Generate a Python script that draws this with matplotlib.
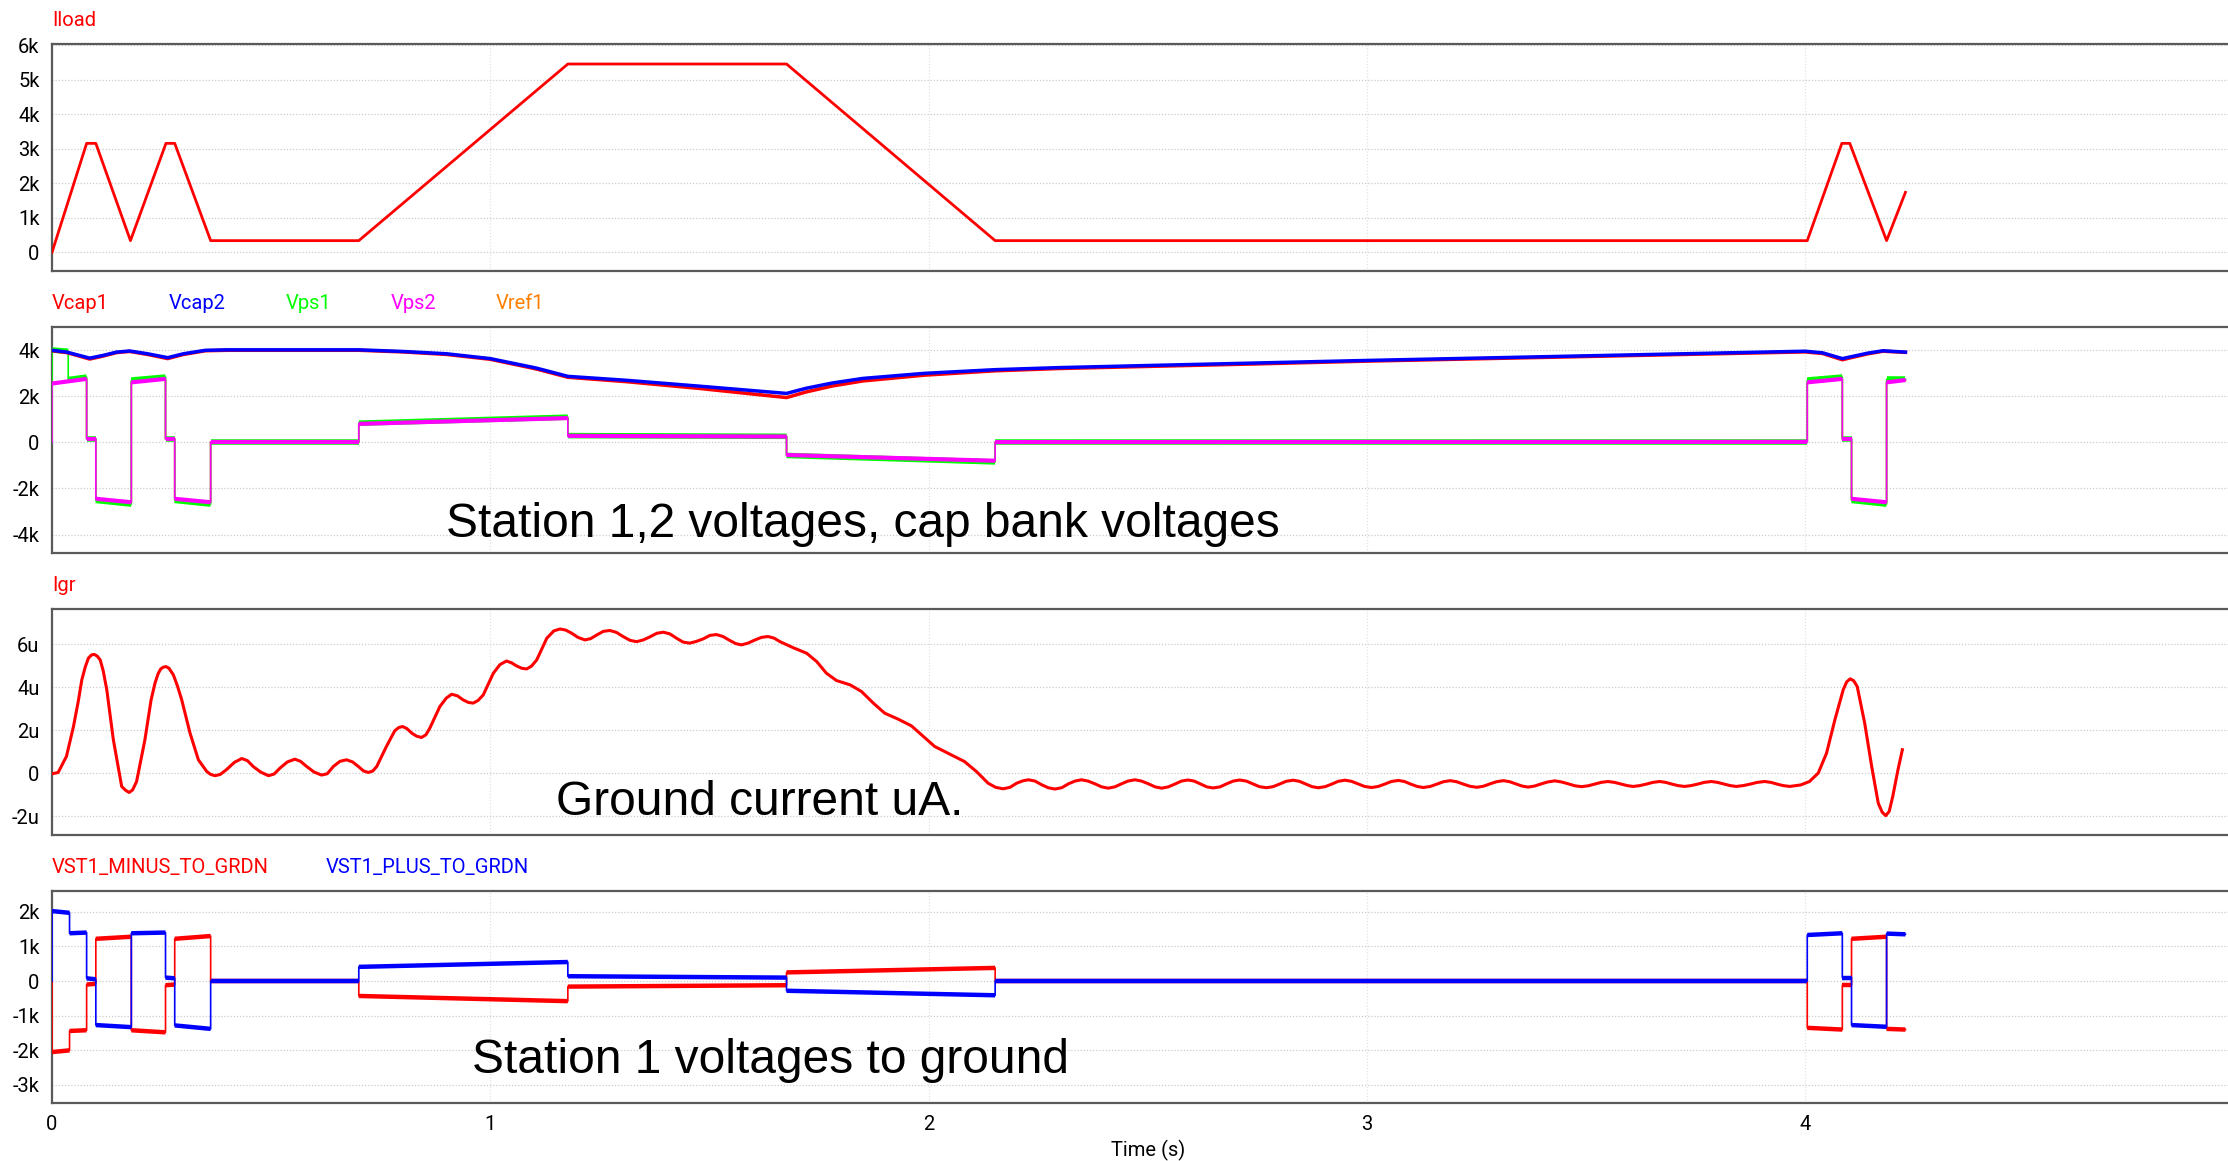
import numpy as np
import matplotlib
matplotlib.use("Agg")
import matplotlib.pyplot as plt

# ---- data (kilo units for voltages/currents, micro-amps for Igr) ----
iload_t = [0, 0.079, 0.100, 0.179, 0.260, 0.280, 0.362, 0.700, 1.177, 1.676,
           2.152, 4.005, 4.084, 4.102, 4.186, 4.229]
iload_k = [0, 3.16, 3.16, 0.34, 3.16, 3.16, 0.34, 0.34, 5.46, 5.46,
           0.34, 0.34, 3.16, 3.16, 0.34, 1.74]

vcap_t = [0, 0.034, 0.086, 0.117, 0.147, 0.177, 0.218, 0.264, 0.300, 0.350,
          0.400, 0.700, 0.800, 0.900, 1.000, 1.105, 1.177, 1.310, 1.480, 1.676,
          1.720, 1.780, 1.850, 1.990, 2.152, 2.300, 2.500, 2.750, 3.000, 3.250,
          3.500, 3.750, 4.000, 4.040, 4.085, 4.144, 4.178, 4.229]
vcap2_k = [3.99, 3.91, 3.65, 3.77, 3.91, 3.96, 3.84, 3.67, 3.84, 3.99,
           4.01, 4.01, 3.94, 3.84, 3.63, 3.22, 2.86, 2.69, 2.43, 2.12,
           2.34, 2.57, 2.77, 2.99, 3.15, 3.24, 3.33, 3.44, 3.55, 3.65,
           3.75, 3.85, 3.95, 3.88, 3.63, 3.87, 3.97, 3.91]
vcap1_k = [3.97, 3.89, 3.61, 3.74, 3.89, 3.94, 3.81, 3.63, 3.81, 3.97,
           3.99, 3.99, 3.92, 3.81, 3.60, 3.18, 2.82, 2.63, 2.33, 1.94,
           2.18, 2.44, 2.66, 2.91, 3.10, 3.20, 3.29, 3.40, 3.52, 3.62,
           3.72, 3.82, 3.92, 3.85, 3.58, 3.84, 3.95, 3.90]

# stepped signals: segment edges, value at segment start, value at segment end
vps2_edges = [0.0, 0.079, 0.100, 0.181, 0.259, 0.280, 0.362, 0.700, 1.177,
              1.676, 2.152, 4.005, 4.085, 4.106, 4.186, 4.229]
vps2_start = [2.55, 0.15, -2.45, 2.60, 0.15, -2.45, 0.02, 0.80, 0.28,
              -0.55, 0.01, 2.60, 0.15, -2.45, 2.60]
vps2_end = [2.75, 0.15, -2.60, 2.75, 0.15, -2.60, 0.02, 1.05, 0.25,
            -0.80, 0.02, 2.75, 0.15, -2.60, 2.70]

vps1_edges = [0.0, 0.037, 0.079, 0.100, 0.181, 0.259, 0.280, 0.362, 0.700,
              1.177, 1.676, 2.152, 4.005, 4.085, 4.106, 4.186, 4.229]
vps1_start = [4.00, 2.72, 0.15, -2.52, 2.70, 0.15, -2.52, 0.00, 0.83, 0.29,
              -0.57, 0.00, 2.70, 0.15, -2.52, 2.73]
vps1_end = [3.95, 2.83, 0.15, -2.68, 2.83, 0.15, -2.68, 0.00, 1.09, 0.26,
            -0.85, 0.00, 2.83, 0.15, -2.68, 2.73]

# Vref1 sits underneath Vps2
vref1_start = vps2_start
vref1_end = vps2_end

igr_t = [0.000, 0.014, 0.033, 0.049, 0.060, 0.068, 0.076, 0.083, 0.090, 0.096,
         0.103, 0.110, 0.117, 0.125, 0.140, 0.159, 0.168, 0.176, 0.184, 0.193,
         0.212, 0.226, 0.235, 0.242, 0.248, 0.254, 0.260, 0.267, 0.277, 0.286,
         0.296, 0.315, 0.334, 0.353, 0.362, 0.372, 0.384, 0.398, 0.416, 0.433,
         0.446, 0.459, 0.476, 0.494, 0.507, 0.520, 0.537, 0.554, 0.567, 0.581,
         0.598, 0.615, 0.628, 0.642, 0.657, 0.672, 0.686, 0.699, 0.711, 0.722,
         0.732, 0.741, 0.763, 0.782, 0.791, 0.800, 0.810, 0.821, 0.832, 0.843,
         0.853, 0.862, 0.885, 0.900, 0.912, 0.925, 0.938, 0.950, 0.961, 0.972,
         0.984, 1.007, 1.022, 1.037, 1.049, 1.060, 1.072, 1.083, 1.094, 1.106,
         1.129, 1.145, 1.159, 1.172, 1.186, 1.200, 1.216, 1.229, 1.243, 1.258,
         1.273, 1.288, 1.303, 1.319, 1.334, 1.349, 1.364, 1.380, 1.395, 1.410,
         1.425, 1.440, 1.455, 1.470, 1.486, 1.501, 1.516, 1.531, 1.547, 1.560,
         1.573, 1.588, 1.604, 1.619, 1.634, 1.648, 1.661, 1.691, 1.722, 1.745,
         1.767, 1.790, 1.821, 1.847, 1.874, 1.900, 1.931, 1.961, 1.988, 2.014,
         2.041, 2.082, 2.109, 2.136,
         2.153, 2.170, 2.186, 2.201, 2.215, 2.228, 2.243, 2.258, 2.273, 2.288,
         2.304, 2.319, 2.334, 2.349, 2.364, 2.380, 2.395, 2.410, 2.425, 2.440,
         2.455, 2.471, 2.486, 2.502, 2.517, 2.532, 2.547, 2.562, 2.577, 2.592,
         2.606, 2.620, 2.635, 2.649, 2.665, 2.680, 2.695, 2.710, 2.725, 2.740,
         2.755, 2.771, 2.786, 2.801, 2.816, 2.832, 2.846, 2.860, 2.875, 2.889,
         2.905, 2.920, 2.935, 2.950, 2.965, 2.980, 2.995, 3.011, 3.026, 3.041,
         3.056, 3.072, 3.086, 3.100, 3.115, 3.129, 3.145, 3.160, 3.175, 3.190,
         3.205, 3.220, 3.235, 3.251, 3.266, 3.281, 3.296, 3.312, 3.326, 3.340,
         3.354, 3.368, 3.383, 3.398, 3.413, 3.429, 3.444, 3.460, 3.475, 3.490,
         3.505, 3.520, 3.535, 3.550, 3.565, 3.580, 3.594, 3.608, 3.623, 3.638,
         3.653, 3.668, 3.682, 3.696, 3.710, 3.725, 3.740, 3.755, 3.770, 3.786,
         3.800, 3.815, 3.829, 3.843, 3.859, 3.875, 3.891, 3.908, 3.922, 3.936,
         3.950, 3.965, 3.990, 4.010, 4.030, 4.049, 4.068, 4.087, 4.095, 4.103,
         4.111, 4.119, 4.136, 4.152, 4.167, 4.176, 4.184, 4.192, 4.200, 4.212,
         4.222]
igr_u = [-0.03, 0.03, 0.78, 2.17, 3.35, 4.34, 4.95, 5.35, 5.50, 5.53,
         5.45, 5.27, 4.75, 3.88, 1.55, -0.62, -0.80, -0.90, -0.78, -0.39,
         1.55, 3.40, 4.19, 4.62, 4.85, 4.93, 4.96, 4.88, 4.57, 4.07,
         3.41, 1.86, 0.62, 0.08, -0.06, -0.12, -0.06, 0.16, 0.50, 0.68,
         0.58, 0.31, 0.05, -0.12, -0.04, 0.23, 0.52, 0.65, 0.55, 0.31,
         0.05, -0.09, -0.03, 0.31, 0.55, 0.62, 0.52, 0.31, 0.10, 0.03,
         0.10, 0.31, 1.24, 1.97, 2.12, 2.17, 2.07, 1.86, 1.72, 1.66,
         1.78, 2.09, 3.10, 3.50, 3.67, 3.60, 3.41, 3.29, 3.26, 3.38,
         3.64, 4.65, 5.05, 5.22, 5.13, 4.99, 4.88, 4.85, 4.98, 5.27,
         6.28, 6.62, 6.71, 6.66, 6.51, 6.32, 6.20, 6.26, 6.43, 6.60,
         6.64, 6.55, 6.36, 6.18, 6.12, 6.20, 6.34, 6.51, 6.56, 6.48,
         6.28, 6.10, 6.05, 6.13, 6.25, 6.41, 6.45, 6.36, 6.17, 6.03,
         5.97, 6.05, 6.20, 6.32, 6.36, 6.28, 6.12, 5.84, 5.58, 5.19,
         4.65, 4.31, 4.11, 3.80, 3.26, 2.79, 2.51, 2.20, 1.71, 1.24,
         0.96, 0.54, 0.08, -0.47,
         -0.66, -0.73, -0.66, -0.47, -0.36, -0.31, -0.37, -0.54, -0.68, -0.74,
         -0.68, -0.50, -0.37, -0.31, -0.37, -0.50, -0.64, -0.70, -0.64, -0.50,
         -0.37, -0.31, -0.37, -0.50, -0.64, -0.70, -0.64, -0.51, -0.37, -0.32,
         -0.37, -0.50, -0.64, -0.69, -0.64, -0.50, -0.37, -0.32, -0.37, -0.50,
         -0.63, -0.68, -0.63, -0.51, -0.38, -0.33, -0.38, -0.50, -0.63, -0.68,
         -0.63, -0.51, -0.38, -0.33, -0.38, -0.50, -0.62, -0.67, -0.62, -0.51,
         -0.39, -0.34, -0.39, -0.51, -0.62, -0.67, -0.62, -0.51, -0.40, -0.35,
         -0.40, -0.51, -0.61, -0.66, -0.61, -0.50, -0.40, -0.35, -0.40, -0.50,
         -0.60, -0.65, -0.60, -0.50, -0.41, -0.36, -0.41, -0.50, -0.59, -0.63,
         -0.59, -0.51, -0.43, -0.39, -0.43, -0.51, -0.58, -0.62, -0.58, -0.51,
         -0.43, -0.39, -0.43, -0.51, -0.58, -0.62, -0.58, -0.51, -0.43, -0.39,
         -0.43, -0.51, -0.58, -0.62, -0.58, -0.51, -0.43, -0.39, -0.43, -0.51,
         -0.58, -0.62, -0.55, -0.39, 0.00, 0.93, 2.48, 3.88, 4.25, 4.39,
         4.30, 4.03, 2.33, 0.31, -1.40, -1.82, -1.98, -1.78, -1.09, 0.16,
         1.09]

vst_edges = [0.0, 0.040, 0.079, 0.100, 0.181, 0.259, 0.280, 0.362, 0.700,
             1.177, 1.676, 2.152, 4.005, 4.085, 4.106, 4.186, 4.229]
vst_plus_start = [2.02, 1.38, 0.08, -1.27, 1.38, 0.10, -1.28, 0.00, 0.41,
                  0.14, -0.28, 0.00, 1.33, 0.10, -1.27, 1.37]
vst_plus_end = [1.97, 1.40, 0.05, -1.33, 1.40, 0.08, -1.38, 0.00, 0.55,
                0.10, -0.41, 0.00, 1.38, 0.10, -1.32, 1.35]
vst_minus_start = [-2.05, -1.44, -0.10, 1.22, -1.42, -0.12, 1.22, 0.00, -0.43,
                   -0.16, 0.25, 0.00, -1.35, -0.12, 1.22, -1.38]
vst_minus_end = [-2.00, -1.42, -0.08, 1.28, -1.48, -0.10, 1.30, 0.00, -0.58,
                 -0.12, 0.38, 0.00, -1.40, -0.12, 1.28, -1.40]

RED, BLUE, GREEN, MAGENTA, ORANGE = "#ff0000", "#0000ff", "#00ff00", "#ff00ff", "#ff8000"

UI_FONT = ["Roboto", "DejaVu Sans"]
BIG_FONT = ["Liberation Sans", "DejaVu Sans"]

W, H = 2228, 1161
fig = plt.figure(figsize=(W / 100, H / 100), dpi=100)
X0 = 52


def panel(top, bottom):
    return fig.add_axes([X0 / W, 1 - bottom / H, 1 - X0 / W, (bottom - top) / H])


def style(ax, ylim, yticks, ylabels, xlabels=False):
    ax.set_xlim(0, 4.965)
    ax.set_ylim(*ylim)
    ax.set_yticks(yticks)
    ax.set_yticklabels(ylabels, family=UI_FONT, fontsize=14.5)
    ax.set_xticks([0, 1, 2, 3, 4])
    if xlabels:
        ax.set_xticklabels(["0", "1", "2", "3", "4"], family=UI_FONT, fontsize=14.5)
    else:
        ax.set_xticklabels([])
    ax.tick_params(length=0, pad=9)
    ax.grid(axis="y", color="#cccccc", ls=(0, (1, 1.5)), lw=0.9, zorder=0)
    for x in [1, 2, 3, 4]:
        ax.axvline(x, color="#e4e4da", ls=(0, (1, 1.5)), lw=0.9, zorder=0)
    ax.spines["right"].set_visible(False)
    for s in ["left", "top", "bottom"]:
        ax.spines[s].set_color("#5a5a5a")
        ax.spines[s].set_linewidth(1.6)


def labels(items, top):
    for x, text, color in items:
        fig.text(x / W, 1 - (top - 23.5) / H, text, color=color, family=UI_FONT,
                 fontsize=14.5, va="center", ha="left")


def draw_steps(ax, edges, v0, v1, scale, color, band, z):
    xs, ys = [edges[0]], [0.0]
    for i in range(len(v0)):
        xs += [edges[i], edges[i + 1]]
        ys += [v0[i] * scale, v1[i] * scale]
    ax.plot(xs, ys, color=color, lw=1.2, zorder=z)
    for i in range(len(v0)):
        ax.plot([edges[i], edges[i + 1]], [v0[i] * scale, v1[i] * scale],
                color=color, lw=band, solid_capstyle="butt", zorder=z)


def big_text(x, y_base, text):
    fig.text(x / W, 1 - y_base / H, text, family=BIG_FONT, fontsize=34.5,
             color="black", va="baseline", ha="left")


# panel 1: Iload
ax1 = panel(44, 271)
style(ax1, (-540, 6040), np.arange(0, 7000, 1000),
      ["0", "1k", "2k", "3k", "4k", "5k", "6k"])
ax1.plot(iload_t, np.array(iload_k) * 1000, color=RED, lw=2.0, zorder=3)
labels([(52, "Iload", RED)], 44)

# panel 2: station voltages
ax2 = panel(327, 553)
style(ax2, (-4800, 5000), [-4000, -2000, 0, 2000, 4000],
      ["-4k", "-2k", "0", "2k", "4k"])
draw_steps(ax2, vps2_edges, vref1_start, vref1_end, 1000, ORANGE, 1.5, 2)
draw_steps(ax2, vps1_edges, vps1_start, vps1_end, 1000, GREEN, 4.0, 3)
draw_steps(ax2, vps2_edges, vps2_start, vps2_end, 1000, MAGENTA, 3.0, 4)
ax2.plot(vcap_t, np.array(vcap1_k) * 1000, color=RED, lw=2.5, zorder=5,
         solid_joinstyle="round")
ax2.plot(vcap_t, np.array(vcap2_k) * 1000, color=BLUE, lw=2.5, zorder=6,
         solid_joinstyle="round")
labels([(52, "Vcap1", RED), (169, "Vcap2", BLUE), (286, "Vps1", GREEN),
        (391, "Vps2", MAGENTA), (496, "Vref1", ORANGE)], 327)
big_text(446, 537, "Station 1,2 voltages, cap bank voltages")

# panel 3: ground current
ax3 = panel(609, 835)
style(ax3, (-2.88e-6, 7.64e-6), [-2e-6, 0, 2e-6, 4e-6, 6e-6],
      ["-2u", "0", "2u", "4u", "6u"])
ax3.plot(igr_t, np.array(igr_u) * 1e-6, color=RED, lw=2.2, zorder=3,
         solid_joinstyle="round")
labels([(52, "Igr", RED)], 609)
big_text(556, 815, "Ground current uA.")

# panel 4: station 1 to ground
ax4 = panel(891, 1103)
style(ax4, (-3520, 2600), np.arange(-3000, 3000, 1000),
      ["-3k", "-2k", "-1k", "0", "1k", "2k"], xlabels=True)
draw_steps(ax4, vst_edges, vst_minus_start, vst_minus_end, 1000, RED, 3.2, 3)
draw_steps(ax4, vst_edges, vst_plus_start, vst_plus_end, 1000, BLUE, 3.2, 4)
labels([(52, "VST1_MINUS_TO_GRDN", RED), (326, "VST1_PLUS_TO_GRDN", BLUE)], 891)
big_text(472, 1073, "Station 1 voltages to ground")

fig.text(1148 / W, 1 - 1150 / H, "Time (s)", family=UI_FONT, fontsize=14.5,
         ha="center", va="center")

fig.savefig("out.png", dpi=100)
